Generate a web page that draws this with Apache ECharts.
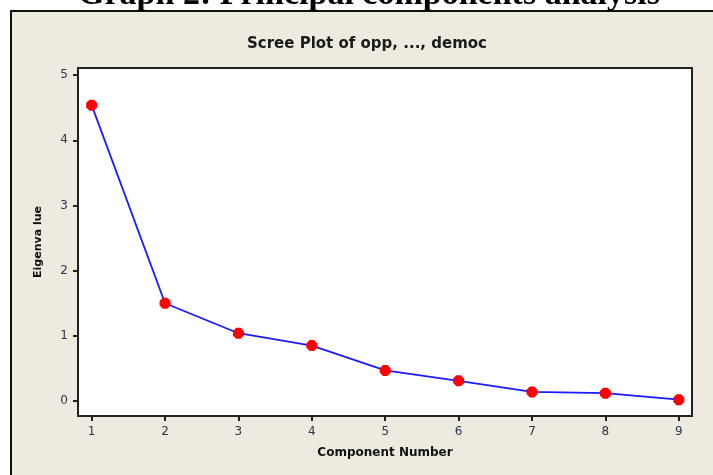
<!DOCTYPE html>
<html>
<head>
<meta charset="utf-8">
<script src="https://cdn.jsdelivr.net/npm/echarts@6/dist/echarts.min.js"></script>
<style>
html,body{margin:0;padding:0;background:#fff;}
#chart{width:713px;height:475px;}
</style>
</head>
<body>
<div id="chart"></div>
<script>
const components = [1, 2, 3, 4, 5, 6, 7, 8, 9];
const eigenvalues = [4.54, 1.50, 1.04, 0.85, 0.47, 0.31, 0.14, 0.12, 0.02];
const yTicks = [0, 1, 2, 3, 4, 5];
const xTicks = [1, 2, 3, 4, 5, 6, 7, 8, 9];
const mainTitle = 'Graph 2: Principal components analysis';
const plotTitle = 'Scree Plot of opp, ..., democ';
const xName = 'Component Number';
const yName = 'Eigenva lue';

const chart = echarts.init(document.getElementById('chart'));
const labelColor = '#2e3550';
chart.setOption({
  animation: false,
  backgroundColor: '#ffffff',
  graphic: [
    { type: 'rect', z: -10, shape: { x: 11, y: 11, width: 720, height: 480 },
      style: { fill: '#EEEAE0', stroke: '#111', lineWidth: 2 } },
    { type: 'text', z: 10, style: {
        text: mainTitle, x: 369, y: 12, align: 'center', verticalAlign: 'bottom',
        font: 'bold 34px "Liberation Serif", "Times New Roman", serif', fill: '#000' } },
    { type: 'text', z: 10, style: {
        text: plotTitle, x: 367, y: 44, align: 'center', verticalAlign: 'middle',
        font: 'bold 15px "DejaVu Sans", Tahoma, sans-serif', fill: '#1a1a1a' } }
  ],
  grid: {
    left: 78, top: 68, right: 21, bottom: 59,
    show: true, backgroundColor: '#ffffff', borderColor: '#222', borderWidth: 2
  },
  xAxis: {
    type: 'value', min: 0.814, max: 9.18,
    name: xName, nameLocation: 'middle', nameGap: 31,
    nameTextStyle: { fontFamily: '"DejaVu Sans", sans-serif', fontWeight: 'bold', fontSize: 12, color: '#111' },
    axisLine: { show: false, onZero: false },
    axisTick: { show: true, inside: false, length: 5, customValues: xTicks, lineStyle: { color: '#222', width: 2 } },
    axisLabel: { customValues: xTicks, margin: 10, fontSize: 12, color: labelColor, fontFamily: '"DejaVu Sans", sans-serif' },
    splitLine: { show: false }
  },
  yAxis: {
    type: 'value', min: -0.23, max: 5.11,
    name: yName, nameLocation: 'middle', nameGap: 34, nameRotate: 90,
    nameTextStyle: { fontFamily: '"DejaVu Sans", sans-serif', fontWeight: 'bold', fontSize: 11, color: '#111' },
    axisLine: { show: false, onZero: false },
    axisTick: { show: true, inside: false, length: 5, customValues: yTicks, lineStyle: { color: '#222', width: 2 } },
    axisLabel: { customValues: yTicks, margin: 10, fontSize: 12, color: labelColor, fontFamily: '"DejaVu Sans", sans-serif' },
    splitLine: { show: false }
  },
  series: [{
    type: 'line',
    data: components.map((c, i) => [c, eigenvalues[i]]),
    lineStyle: { color: '#1a1aff', width: 1.8 },
    symbol: 'path://M3,0 L7,0 L10,3 L10,7 L7,10 L3,10 L0,7 L0,3 Z',
    symbolSize: 11,
    itemStyle: { color: '#ff0000', borderWidth: 0 }
  }]
});
</script>
</body>
</html>
